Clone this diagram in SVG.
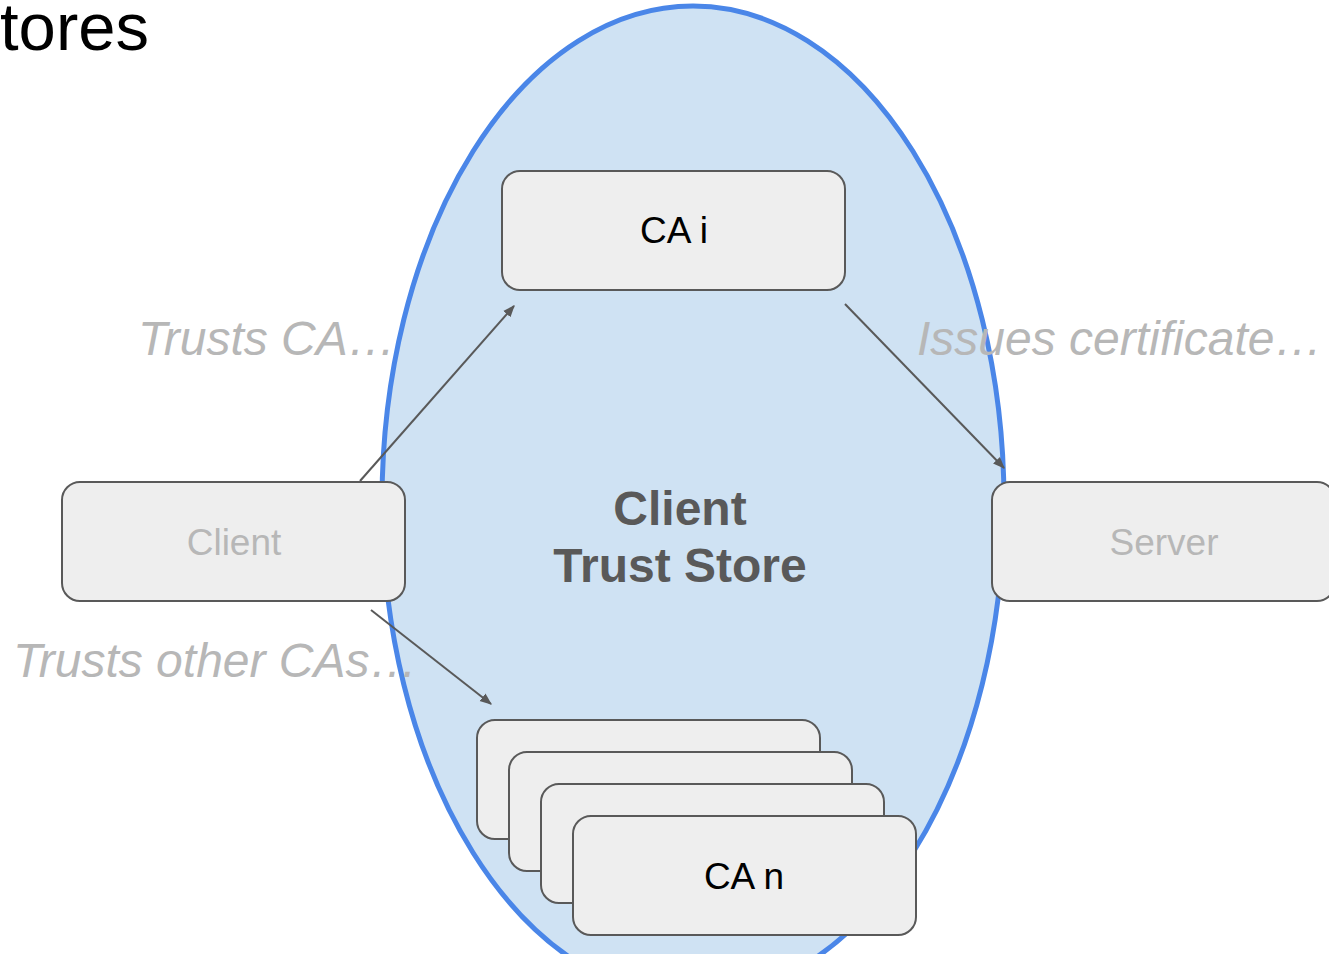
<svg xmlns="http://www.w3.org/2000/svg" width="1329" height="954" viewBox="0 0 1329 954">
  <style>
    .box { fill: #eeeeee; stroke: #595959; stroke-width: 2; }
    .dark { font-family: "Liberation Sans", Arial, sans-serif; fill: #000000; text-anchor: middle; }
    .muted { font-family: "Liberation Sans", Arial, sans-serif; fill: #b7b7b7; text-anchor: middle; }
    .title { font-family: "Liberation Sans", Arial, sans-serif; font-weight: bold; fill: #595959; text-anchor: middle; font-size: 48px; }
    .note { font-family: "Liberation Sans", Arial, sans-serif; font-style: italic; fill: #b7b7b7; font-size: 48px; }
    .edge { stroke: #595959; stroke-width: 2; fill: none; marker-end: url(#arrow); }
  </style>
  <defs>
    <marker id="arrow" viewBox="0 0 10 10" refX="9" refY="5" markerWidth="6" markerHeight="6" orient="auto" markerUnits="strokeWidth">
      <path d="M0,1 L10,5 L0,9 Z" fill="#595959"/>
    </marker>
  </defs>
  <rect width="1329" height="954" fill="#ffffff"/>

  <!-- slide title fragment -->
  <text x="0" y="50" font-family="Liberation Sans, Arial, sans-serif" font-size="67" fill="#000000">tores</text>

  <!-- trust store region -->
  <g id="trust-store">
    <ellipse cx="693" cy="502" rx="311" ry="496" fill="#cfe2f3" stroke="#4a86e8" stroke-width="5"/>
    <text class="title" x="680" y="525">Client</text>
    <text class="title" x="680" y="582">Trust Store</text>
  </g>

  <!-- edge labels -->
  <text class="note" x="138" y="355">Trusts CA…</text>
  <text class="note" x="917" y="355">Issues certificate…</text>
  <text class="note" x="13" y="677">Trusts other CAs…</text>

  <g id="ca-i">
    <rect class="box" x="502" y="171" width="343" height="119" rx="18"/>
    <text class="dark" x="674" y="243" font-size="37">CA i</text>
  </g>

  <g id="client">
    <rect class="box" x="62" y="482" width="343" height="119" rx="18"/>
    <text class="muted" x="234" y="555" font-size="37">Client</text>
  </g>

  <g id="server">
    <rect class="box" x="992" y="482" width="343" height="119" rx="18"/>
    <text class="muted" x="1164" y="555" font-size="37">Server</text>
  </g>

  <g id="ca-stack">
    <rect class="box" x="477" y="720" width="343" height="119" rx="18"/>
    <rect class="box" x="509" y="752" width="343" height="119" rx="18"/>
    <rect class="box" x="541" y="784" width="343" height="119" rx="18"/>
    <rect class="box" x="573" y="816" width="343" height="119" rx="18"/>
    <text class="dark" x="744" y="889" font-size="37">CA n</text>
  </g>

  <g id="connectors">
    <line class="edge" x1="360" y1="481" x2="514" y2="306"/>
    <line class="edge" x1="845" y1="304" x2="1004" y2="468"/>
    <line class="edge" x1="371" y1="610" x2="491" y2="704"/>
  </g>
</svg>
